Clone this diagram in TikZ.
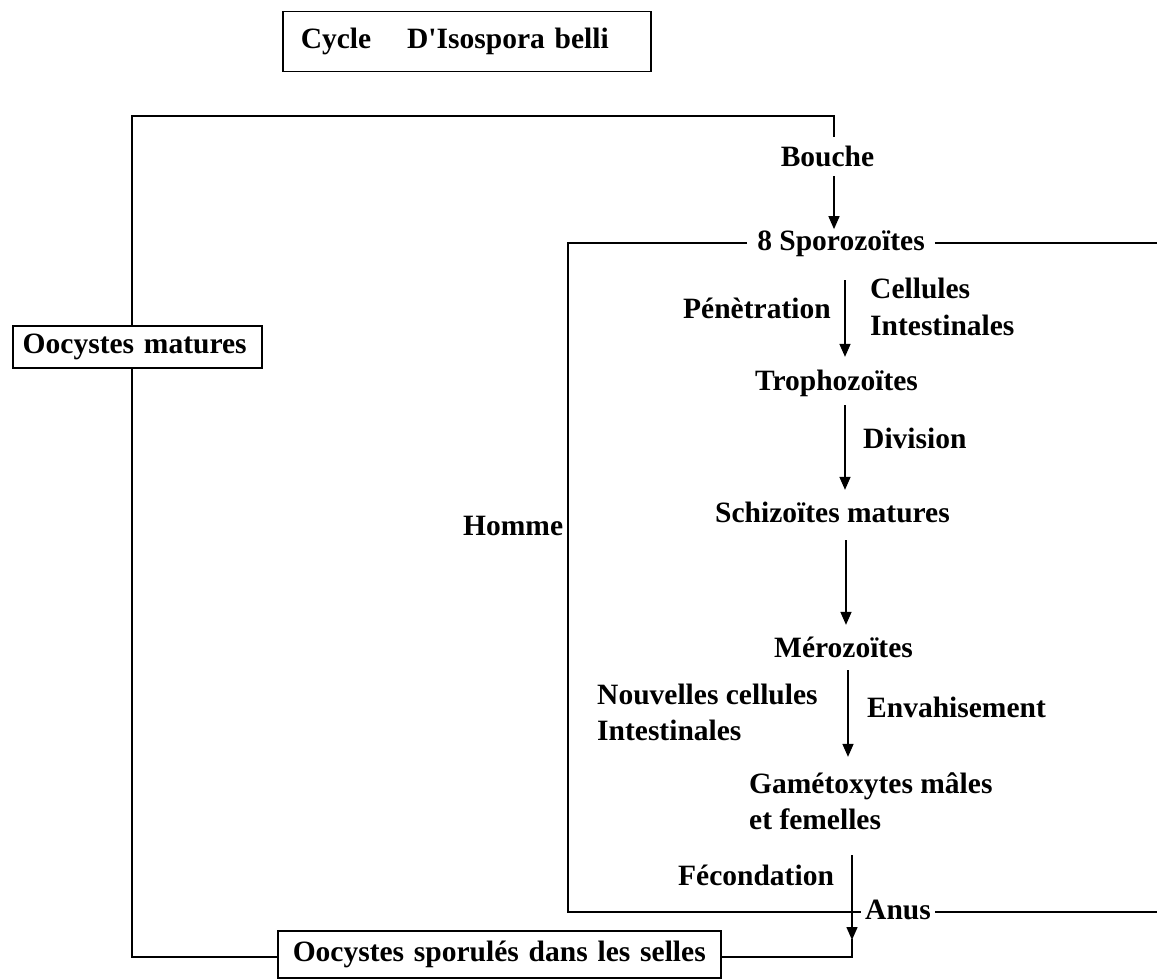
\documentclass[tikz,border=0pt]{standalone}
\usepackage{fontspec}
\setmainfont{Liberation Serif}
\usetikzlibrary{arrows.meta}
\begin{document}
\begin{tikzpicture}[x=1pt,y=-1pt,
  lbl/.style={font=\bfseries\fontsize{29.5}{35}\selectfont, inner sep=0pt, text height=20.65pt, text depth=6.5pt, anchor=base},
  lblw/.style={lbl, anchor=base west},
  ln/.style={line width=1.5pt},
  boxed/.style={draw, ln, font=\bfseries\fontsize{29.5}{35}\selectfont, text height=20.65pt, text depth=6.5pt, inner ysep=0pt, align=left, anchor=north west},
  arr/.style={ln, -{Triangle[width=11pt,length=13pt]}}]
\useasboundingbox (0,0) rectangle (1157,979);

% coordinates
\coordinate (tl) at (132,116);
\coordinate (tr) at (834,116);
\coordinate (bl) at (132,957);
\coordinate (fl) at (568,0);
\coordinate (fr) at (1157,0);
\coordinate (x1) at (845,0);
\coordinate (x2) at (845,0);
\coordinate (x3) at (846,0);
\coordinate (x4) at (848,0);
\coordinate (x5) at (852,0);
\coordinate (ca) at (852,957);

% boxes
\node[boxed, inner xsep=18pt, text width=332pt, minimum height=60pt] (title) at (282,11)
  {\mbox{Cycle\hspace*{36pt}D\textquotesingle Isospora belli}};
\node[boxed, inner xsep=10pt, text width=229pt, minimum height=42pt] (oomat) at (12,325)
  {\mbox{Oocystes matures}};
\node[boxed, inner xsep=15pt, text width=413pt, minimum height=47pt] (oospo) at (277,930)
  {\mbox{Oocystes sporulés dans les selles}};

% labels
\node[lbl] (bouche) at (827.5,167) {Bouche};
\node[lbl, inner xsep=10pt] (spor) at (841,250) {8 Sporozoïtes};
\node[lblw] (pene) at (683,318) {Pénètration};
\node[lblw] (cell1) at (870,298) {Cellules};
\node[lblw] (cell2) at (870,335) {Intestinales};
\node[lbl] (tropho) at (836.5,390) {Trophozoïtes};
\node[lblw] (divi) at (863,448) {Division};
\node[lblw] (homme) at (463,535) {Homme};
\node[lbl] (schizo) at (832.5,522) {Schizoïtes matures};
\node[lbl] (mero) at (843.5,657) {Mérozoïtes};
\node[lblw] (nouv1) at (597,704) {Nouvelles cellules};
\node[lblw] (nouv2) at (597,740) {Intestinales};
\node[lblw] (envah) at (867,717) {Envahisement};
\node[lblw] (game1) at (749,793) {Gamétoxytes mâles};
\node[lblw] (game2) at (749,829) {et femelles};
\node[lblw] (feco) at (678,885) {Fécondation};
\node[lblw, inner xsep=4pt] (anus) at (861,919) {Anus};

% outer loop
\draw[ln, shorten <=9.3pt] (bouche.north -| tr) -- (tr) -- (tl) -- (oomat.north -| tl);
\draw[ln] (oomat.south -| tl) -- (bl) -- (oospo.west |- bl);
\draw[arr, shorten <=2.5pt] (bouche.south -| tr) -- (spor.north -| tr);

% inner frame (Homme)
\draw[ln] (spor.west) -- (spor.west -| fl) -- (anus.west -| fl) -- (anus.west);
\draw[ln] (spor.east) -- (spor.east -| fr);
\draw[ln] (anus.east) -- (anus.east -| fr);

% chain of arrows
\draw[arr, shorten <=23.5pt, shorten >=12.3pt] (spor.south -| x1) -- (tropho.north -| x1);
\draw[arr, shorten <=8.5pt, shorten >=11.3pt] (tropho.south -| x2) -- (schizo.north -| x2);
\draw[arr, shorten <=11.5pt, shorten >=11.3pt] (schizo.south -| x3) -- (mero.north -| x3);
\draw[arr, shorten <=6.5pt, shorten >=15.3pt] (mero.south -| x4) -- (game1.north -| x4);
\draw[arr, shorten <=19.5pt] (game2.south -| x5) -- ([yshift=17pt]ca);
\draw[ln] ([yshift=18pt]ca) -- (ca) -- (ca -| oospo.east);
\end{tikzpicture}
\end{document}
